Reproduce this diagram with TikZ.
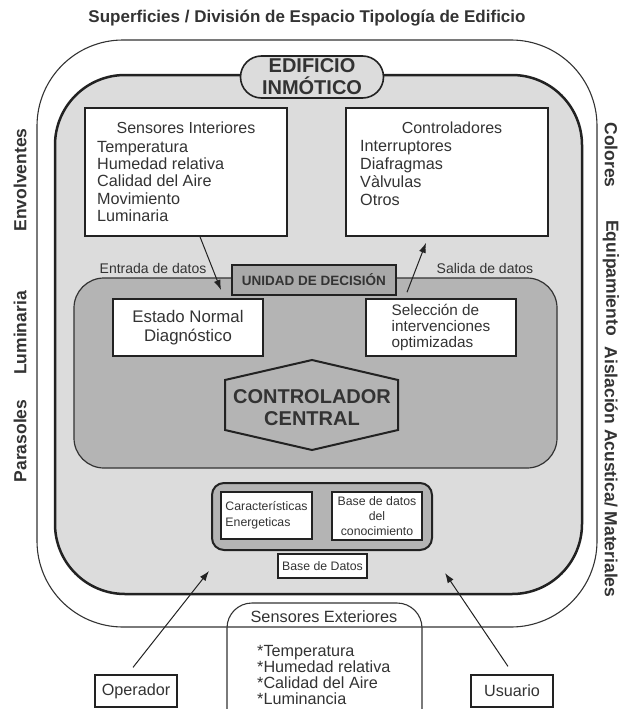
\documentclass[tikz,border=0pt]{standalone}
\usepackage{fontspec}
\setmainfont{Liberation Sans}
\usetikzlibrary{arrows.meta,shapes.misc}
\definecolor{tinta}{HTML}{333333}
\definecolor{borde}{HTML}{222222}
\definecolor{fondo}{HTML}{DCDCDC}
\definecolor{zona}{HTML}{B4B4B4}
\definecolor{unidadgris}{HTML}{A9A9A9}
\begin{document}
\begin{tikzpicture}[x=1pt,y=-1pt,
    texto/.style={text=tinta,font=\fontsize{16}{17.5}\selectfont,inner sep=0pt},
    lado/.style={text=tinta,font=\bfseries\fontsize{17.5}{19}\selectfont,inner sep=0pt},
    caja/.style={draw=borde,line width=1.6pt,fill=white,inner sep=0pt},
    flecha/.style={draw=borde,line width=1pt,-{Latex[length=10pt,width=7pt]}}]
    \useasboundingbox (0,0) rectangle (620,709);
    \node[lado,font=\bfseries\fontsize{17}{18}\selectfont] (titulo) at (307,18) {Superficies / División de Espacio Tipología de Edificio};
    \draw[tinta,line width=1.1pt,rounded corners=86pt] (37,40) rectangle (597,627);
    \draw[borde,fill=fondo,line width=2.5pt,rounded corners=70pt] (55,75) rectangle (582,594);
    \node[draw=borde,line width=1.6pt,fill=fondo,rounded rectangle,minimum width=143pt,minimum height=42pt,inner sep=0pt,align=center,text=tinta,font=\bfseries\fontsize{20}{22}\selectfont] (edificio) at (312,77) {EDIFICIO\\INMÓTICO};
    % sensores y controladores
    \node[caja,minimum width=202pt,minimum height=128pt] (sensint) at (186,172) {};
    \node[texto] (sensinttit) at (186,128) {Sensores Interiores};
    \node[texto,align=left,anchor=north west,font=\fontsize{16.2}{17.3}\selectfont] (sensintlst) at (97,141) {Temperatura\\Humedad relativa\\Calidad del Aire\\Movimiento\\Luminaria};
    \node[caja,minimum width=202pt,minimum height=128pt] (ctrl) at (447,172) {};
    \node[texto] (ctrltit) at (452,128) {Controladores};
    \node[texto,align=left,anchor=north west,font=\fontsize{16.2}{18}\selectfont] (ctrllst) at (360,140) {Interruptores\\Diafragmas\\Vàlvulas\\Otros};
    \node[texto,font=\fontsize{14}{16}\selectfont] (entrada) at (153,268) {Entrada de datos};
    \node[texto,font=\fontsize{14}{16}\selectfont] (salida) at (485,268) {Salida de datos};
    % unidad de decision
    \draw[tinta,fill=zona,line width=1.2pt,rounded corners=30pt] (74,278) rectangle (557,468);
    \node[draw=borde,line width=1.6pt,fill=unidadgris,minimum width=164pt,minimum height=30pt,inner sep=0pt,text=tinta,font=\bfseries\fontsize{13.5}{15}\selectfont] (unidad) at (314,280) {UNIDAD DE DECISIÓN};
    \node[caja,texto,minimum width=150pt,minimum height=57pt,align=center,font=\fontsize{16.8}{19}\selectfont] (estado) at (188,327.5) {Estado Normal\\Diagnóstico};
    \node[caja,texto,minimum width=150pt,minimum height=57pt,align=left,font=\fontsize{15.3}{16}\selectfont] (selec) at (441,327.5) {Selección de\\intervenciones\\optimizadas};
    \draw[borde,line width=2pt] (312,360) -- (398,380) -- (398,430) -- (312,450) -- (225,430) -- (225,380) -- cycle;
    \node[texto,align=center,font=\bfseries\fontsize{20}{22}\selectfont] (central) at (312,408) {CONTROLADOR\\CENTRAL};
    \coordinate (entradafin) at (221,290);
    \draw[flecha] ([xshift=14pt]sensint.south) -- (entradafin);
    \draw[flecha] ([shift={(-34pt,6pt)}]selec.north) -- ([shift={(-21pt,-6pt)}]ctrl.south);
    % base de datos
    \draw[borde,fill=zona,line width=2pt,rounded corners=12pt] (212,483) rectangle (432,550);
    \node[caja,texto,line width=1.2pt,minimum width=91pt,minimum height=47pt,align=left,font=\fontsize{12.3}{16}\selectfont] (caract) at (266.5,515.5) {Características\\Energeticas};
    \node[caja,texto,line width=1.2pt,minimum width=90pt,minimum height=48pt,align=center,font=\fontsize{12.3}{15}\selectfont] (conoc) at (377,516) {Base de datos\\del\\conocimiento};
    \node[caja,texto,line width=2pt,minimum width=89pt,minimum height=24pt,font=\fontsize{12.3}{14}\selectfont] (basedatos) at (322.5,566) {Base de Datos};
    % exterior
    \draw[tinta,line width=1.1pt,rounded corners=25pt] (227,715) |- (422,603) -- (422,715);
    \node[texto,font=\fontsize{16.3}{18}\selectfont] (sensext) at (324,617) {Sensores Exteriores};
    \node[texto,align=left,anchor=north west,font=\fontsize{16.2}{16.2}\selectfont] (sensextlst) at (257,645) {*Temperatura\\*Humedad relativa\\*Calidad del Aire\\*Luminancia};
    \node[draw=borde,line width=1.2pt,minimum width=82pt,minimum height=32pt,texto,font=\fontsize{16.2}{18}\selectfont] (operador) at (136,691) {Operador};
    \node[draw=borde,line width=1.2pt,minimum width=82pt,minimum height=32pt,texto,font=\fontsize{16.2}{18}\selectfont] (usuario) at (512,691) {Usuario};
    \coordinate (operadorfin) at (209,571);
    \coordinate (usuariofin) at (445,573);
    \draw[flecha] ([shift={(-3pt,7pt)}]operador.north) -- (operadorfin);
    \draw[flecha] ([shift={(-4pt,8pt)}]usuario.north) -- (usuariofin);
    % etiquetas laterales
    \node[lado,rotate=90] (envolv) at (20,180) {Envolventes};
    \node[lado,rotate=90] (lumin) at (20,333) {Luminaria};
    \node[lado,rotate=90] (parasol) at (20,441) {Parasoles};
    \node[lado,rotate=-90] (colores) at (611,155) {Colores};
    \node[lado,rotate=-90] (equip) at (611,278) {Equipamiento};
    \node[lado,rotate=-90] (aislac) at (611,472) {Aislación Acustica/ Materiales};
\end{tikzpicture}
\end{document}
